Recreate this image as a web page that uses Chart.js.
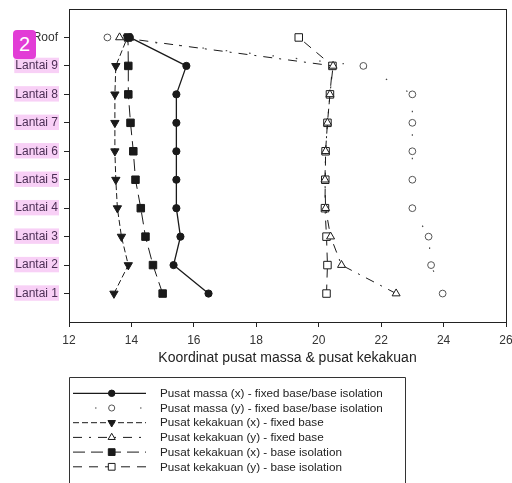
<!DOCTYPE html>
<html>
<head>
<meta charset="utf-8">
<script src="https://cdn.jsdelivr.net/npm/chart.js@4/dist/chart.umd.min.js"></script>
<style>
html,body{margin:0;padding:0;background:#fff;overflow:hidden;width:512px;height:483px;}
#wrap{position:absolute;left:0;top:0;width:530px;height:483px;}
#badge{position:absolute;left:13px;top:30px;width:23px;height:29px;background:#e23dd6;border-radius:4px;color:#fff;font:20px "Liberation Sans",Arial,sans-serif;text-align:center;line-height:29px;}
</style>
</head>
<body>
<div id="wrap"><canvas id="c"></canvas></div>
<div id="badge">2</div>
<script>
// Floors (y categories, bottom to top)
const floors = ['Lantai 1','Lantai 2','Lantai 3','Lantai 4','Lantai 5','Lantai 6','Lantai 7','Lantai 8','Lantai 9','Roof'];
// x-axis ticks
const xTicks = [12,14,16,18,20,22,24,26];
// Series values (x coordinate per floor, Lantai 1 .. Roof)
const massaX       = [16.47, 15.35, 15.57, 15.44, 15.44, 15.44, 15.44, 15.44, 15.76, 13.95];
const massaY       = [23.97, 23.60, 23.52, 23.00, 23.00, 23.00, 23.00, 23.00, 21.43, 13.23];
const kekakuanXFix = [13.44, 13.90, 13.68, 13.55, 13.50, 13.47, 13.47, 13.47, 13.50, 13.87];
const kekakuanYFix = [22.48, 20.73, 20.38, 20.22, 20.20, 20.22, 20.28, 20.36, 20.46, 13.62];
const kekakuanXIso = [15.00, 14.69, 14.45, 14.30, 14.13, 14.06, 13.97, 13.90, 13.90, 13.89];
const kekakuanYIso = [20.25, 20.28, 20.25, 20.20, 20.21, 20.22, 20.28, 20.36, 20.44, 19.36];
// Legend labels
const labels = [
  'Pusat massa (x) - fixed base/base isolation',
  'Pusat massa (y) - fixed base/base isolation',
  'Pusat kekakuan (x) - fixed base',
  'Pusat kekakuan (y) - fixed base',
  'Pusat kekakuan (x) - base isolation',
  'Pusat kekakuan (y) - base isolation'
];

const FONT = '"Liberation Sans", Arial, sans-serif';
const toPts = arr => arr.map((v,i) => ({x: v, y: i + 1}));

const ink = '#1a1a1a';
const datasets = [
  {label: labels[0], data: toPts(massaX), borderColor: ink, borderWidth: 1.3, borderDash: [], legendDash: [],
   pointStyle: 'circle', pointRadius: 3.6, pointBackgroundColor: ink, pointBorderColor: ink, rotation: 0},
  {label: labels[1], data: toPts(massaY), borderColor: '#444', borderWidth: 1.2, borderDash: [1.5, 22], legendDash: [0, 22, 1.5, 43.5, 1.5, 100],
   pointStyle: 'circle', pointRadius: 3.4, pointBackgroundColor: '#fff', pointBorderColor: '#555', rotation: 0},
  {label: labels[2], data: toPts(kekakuanXFix), borderColor: ink, borderWidth: 1, borderDash: [6, 3], legendDash: [6, 3],
   pointStyle: 'triangle', pointRadius: 4.8, pointRotation: 180, pointBackgroundColor: ink, pointBorderColor: ink, rotation: 180},
  {label: labels[3], data: toPts(kekakuanYFix), borderColor: ink, borderWidth: 1, borderDash: [9, 7, 2, 7], legendDash: [9, 7, 2, 7],
   pointStyle: 'triangle', pointRadius: 4.6, pointBackgroundColor: '#fff', pointBorderColor: ink, rotation: 0},
  {label: labels[4], data: toPts(kekakuanXIso), borderColor: ink, borderWidth: 1, borderDash: [12, 6], legendDash: [12, 6],
   pointStyle: 'rect', pointRadius: 5.3, pointBackgroundColor: ink, pointBorderColor: ink, rotation: 0},
  {label: labels[5], data: toPts(kekakuanYIso), borderColor: ink, borderWidth: 1, borderDash: [9, 7], legendDash: [9, 7],
   pointStyle: 'rect', pointRadius: 5.3, pointBackgroundColor: '#fff', pointBorderColor: ink, rotation: 0}
];
datasets.forEach(d => { d.showLine = true; d.fill = false; d.tension = 0; d.pointBorderWidth = 1; d.pointHoverRadius = d.pointRadius; });

const framePlugin = {
  id: 'frame',
  afterDatasetsDraw(chart) {
    const {ctx, chartArea: a} = chart;
    ctx.save();
    ctx.strokeStyle = '#222';
    ctx.lineWidth = 1;
    ctx.strokeRect(Math.round(a.left) + 0.5, Math.round(a.top) + 0.5, Math.round(a.right - a.left), Math.round(a.bottom - a.top));
    ctx.restore();
  },
  afterDraw(chart) {
    const ctx = chart.ctx;
    ctx.save();
    // legend box
    ctx.strokeStyle = '#333';
    ctx.lineWidth = 1;
    ctx.beginPath();
    ctx.moveTo(69.5, 490); ctx.lineTo(69.5, 377.5); ctx.lineTo(405.5, 377.5); ctx.lineTo(405.5, 490);
    ctx.stroke();
    const rowY0 = 393.3, rowStep = 14.7;
    chart.data.datasets.forEach((d, i) => {
      const y = rowY0 + i * rowStep;
      ctx.strokeStyle = d.borderColor;
      ctx.lineWidth = d.borderWidth;
      ctx.setLineDash(d.legendDash || []);
      ctx.beginPath(); ctx.moveTo(73, y); ctx.lineTo(146, y); ctx.stroke();
      ctx.setLineDash([]);
      ctx.fillStyle = d.pointBackgroundColor;
      ctx.strokeStyle = d.pointBorderColor;
      ctx.lineWidth = 1;
      Chart.helpers.drawPoint(ctx, {pointStyle: d.pointStyle, rotation: d.rotation, radius: d.pointRadius * 0.9, borderWidth: 1}, 111.7, y);
      ctx.fillStyle = '#222';
      ctx.font = '11.7px ' + FONT;
      ctx.textBaseline = 'middle';
      ctx.textAlign = 'left';
      ctx.fillText(d.label, 160, y + 0.5);
    });
    ctx.restore();
  }
};

new Chart(document.getElementById('c'), {
  type: 'scatter',
  data: {datasets},
  options: {
    responsive: true,
    maintainAspectRatio: false,
    animation: false,
    events: [],
    layout: {padding: {top: 9, right: 24, bottom: 113, left: 0}},
    plugins: {legend: {display: false}, tooltip: {enabled: false}},
    elements: {line: {borderJoinStyle: 'miter'}},
    scales: {
      x: {
        type: 'linear', min: 12, max: 26,
        afterBuildTicks: s => { s.ticks = xTicks.map(v => ({value: v})); },
        afterFit: s => { s.height = 48; s.paddingLeft = 0; s.paddingRight = 0; },
        grid: {drawOnChartArea: false, drawTicks: true, tickLength: 5, color: '#222'},
        border: {display: true, color: '#222'},
        ticks: {font: {size: 12, family: FONT}, color: '#333', padding: 6, maxRotation: 0, autoSkip: false},
        title: {display: true, text: 'Koordinat pusat massa & pusat kekakuan', font: {size: 14, family: FONT}, color: '#222', padding: {top: 2, bottom: 3}}
      },
      y: {
        type: 'linear', min: 0, max: 11,
        afterBuildTicks: s => { s.ticks = floors.map((f, i) => ({value: i + 1})); },
        afterFit: s => { s.width = 69; s.paddingTop = 0; s.paddingBottom = 0; },
        grid: {drawOnChartArea: false, drawTicks: true, tickLength: 5, color: '#222'},
        border: {display: true, color: '#222'},
        ticks: {
          autoSkip: false,
          font: {size: 12, family: FONT},
          color: ctx => floors[ctx.tick.value - 1] === 'Roof' ? '#333' : '#4c2f55',
          padding: 6,
          showLabelBackdrop: true,
          backdropColor: ctx => floors[ctx.tick.value - 1] === 'Roof' ? 'rgba(0,0,0,0)' : '#f8d0f6',
          backdropPadding: {top: 1, bottom: 0, left: 1, right: 1},
          callback: v => floors[v - 1] || ''
        }
      }
    }
  },
  plugins: [framePlugin]
});
</script>
</body>
</html>
